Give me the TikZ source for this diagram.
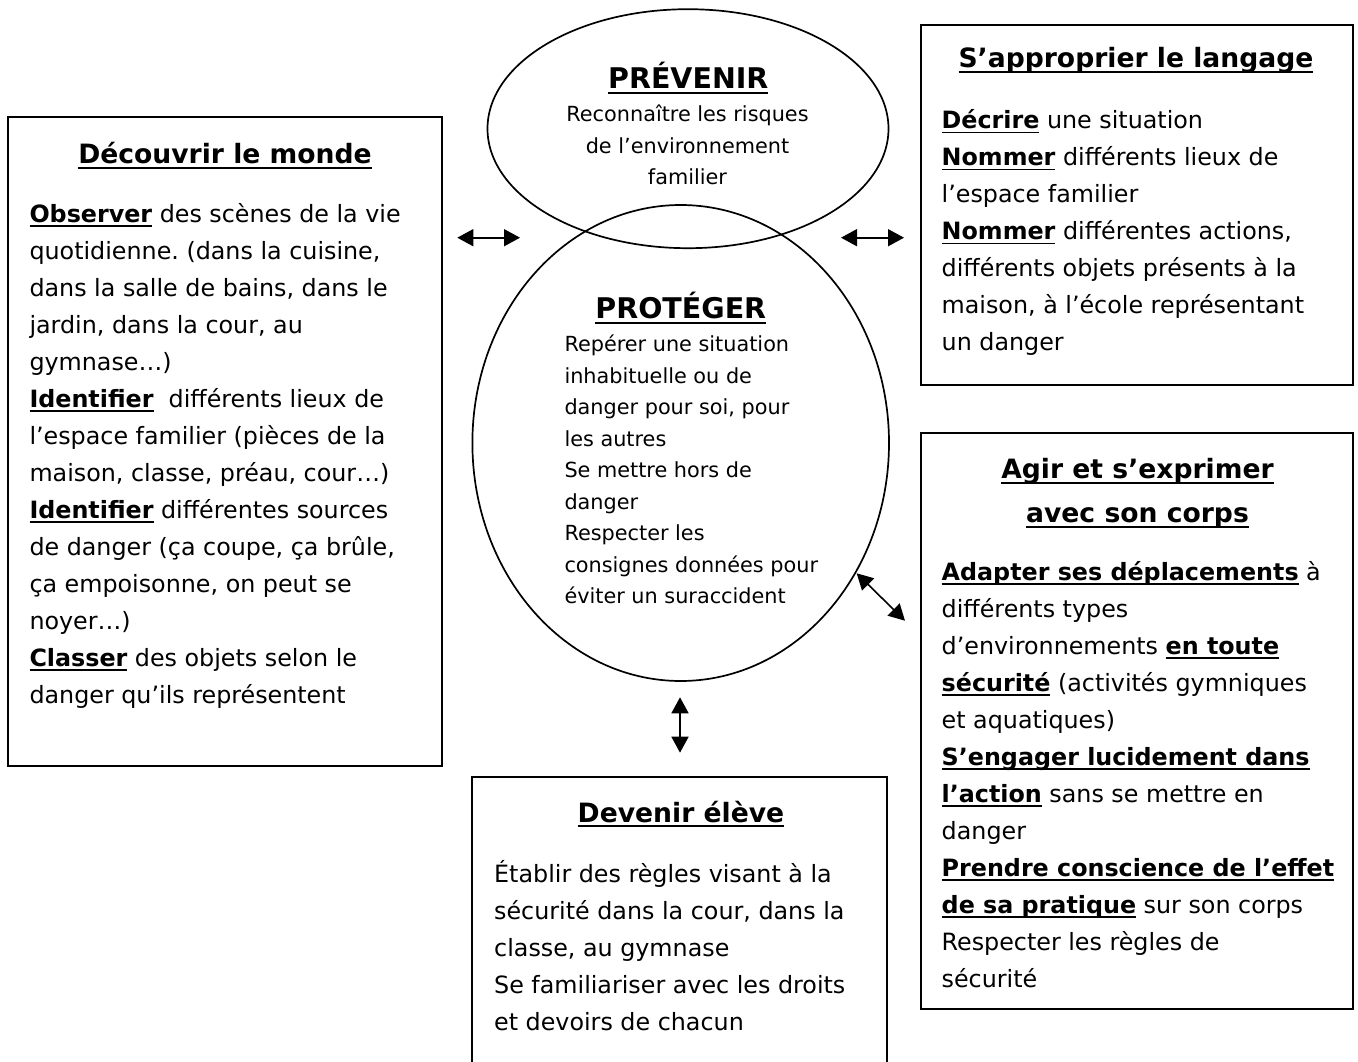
\documentclass[tikz,border=0pt]{standalone}
\usepackage{fontspec}
\setmainfont{DejaVu Sans}
\usetikzlibrary{shapes.geometric,arrows.meta}
\frenchspacing
\newcommand\bodyfont{\fontsize{23.8}{37}\selectfont}
\newcommand\ellfont{\fontsize{20.8}{31.5}\selectfont}
\newcommand\headfont{\fontsize{26.6}{44}\selectfont\bfseries}
\newcommand\bigheadfont{\fontsize{28.5}{34}\selectfont\bfseries}
\newcommand\myul[1]{\setbox0\hbox{#1}\rlap{\rule[-0.2em]{\wd0}{0.075em}}\box0\relax}
\newcommand\bu[1]{\myul{\textbf{#1}}}
\tikzset{
  box/.style={draw=black, line width=2pt},
  oval/.style={ellipse, draw=black, line width=1.7pt, inner sep=0pt},
  body/.style={anchor=north west, inner sep=0pt, align=left, font=\bodyfont},
  ellbody/.style={inner sep=0pt, font=\ellfont},
  heading/.style={anchor=base, inner sep=0pt, font=\headfont},
  bighead/.style={anchor=base, inner sep=0pt, font=\bigheadfont},
  dbl/.style={line width=1.6pt, {Triangle[length=16pt,width=17pt]}-{Triangle[length=16pt,width=17pt]}}
}
\begin{document}
\begin{tikzpicture}[x=1pt,y=-1pt]
\useasboundingbox (0,0) rectangle (1358,1062);
\fill[white] (0,0) rectangle (1358,1062);

% boxes
\draw[box] (8,117) rectangle (441.5,766);
\draw[box] (921,25) rectangle (1353,385);
\draw[box] (921,433) rectangle (1353,1009);
\draw[box] (472,777) rectangle (887,1075);

% ellipses
\node[oval, minimum width=401pt, minimum height=239pt] (prev) at (688,128.7) {};
\node[oval, minimum width=416.6pt, minimum height=476pt] (prot) at (680.7,443) {};

% PREVENIR
\node[bighead] (prevh) at (688.3,88.3) {\myul{PRÉVENIR}};
\node[ellbody, anchor=north, align=center] (prevt) at (687.5,99.65) {\strut Reconnaître les risques\\ de l’environnement\\ familier};

% PROTEGER
\node[bighead] (proth) at (680.8,318.3) {\myul{PROTÉGER}};
\node[ellbody, anchor=north west, align=left] (prott) at (564.3,329.65) {\strut Repérer une situation\\
inhabituelle ou de\\
danger pour soi, pour\\
les autres\\
Se mettre hors de\\
danger\\
Respecter les\\
consignes données pour\\
éviter un suraccident};

% Decouvrir le monde
\node[heading] (dech) at (225,163.3) {\myul{Découvrir le monde}};
\node[body] (dect) at (29.3,196.1) {\strut\bu{Observer} des scènes de la vie\\
quotidienne. (dans la cuisine,\\
dans la salle de bains, dans le\\
jardin, dans la cour, au\\
gymnase…)\\
\bu{Identifier}\ \ différents lieux de\\
l’espace familier (pièces de la\\
maison, classe, préau, cour…)\\
\bu{Identifier} différentes sources\\
de danger (ça coupe, ça brûle,\\
ça empoisonne, on peut se\\
noyer…)\\
\bu{Classer} des objets selon le\\
danger qu’ils représentent};

% S'approprier le langage
\node[heading] (langh) at (1136,68) {\myul{S’approprier le langage}};
\node[body] (langt) at (941.5,102.6) {\strut\bu{Décrire} une situation\\
\bu{Nommer} différents lieux de\\
l’espace familier\\
\bu{Nommer} différentes actions,\\
différents objets présents à la\\
maison, à l’école représentant\\
un danger};

% Agir et s'exprimer
\node[heading, anchor=north, align=center] (agirh) at (1137.5,447.2) {\strut\myul{Agir et s’exprimer}\\ \myul{avec son corps}};
\node[body] (agirt) at (941.5,554.1) {\strut\bu{Adapter ses déplacements} à\\
différents types\\
d’environnements \bu{en toute}\\
\bu{sécurité} (activités gymniques\\
et aquatiques)\\
\bu{S’engager lucidement dans}\\
\bu{l’action} sans se mettre en\\
danger\\
\bu{Prendre conscience de l’effet}\\
\bu{de sa pratique} sur son corps\\
Respecter les règles de\\
sécurité};

% Devenir eleve
\node[heading] (devh) at (681,822) {\myul{Devenir élève}};
\node[body] (devt) at (494,856.1) {\strut Établir des règles visant à la\\
sécurité dans la cour, dans la\\
classe, au gymnase\\
Se familiariser avec les droits\\
et devoirs de chacun};

% arrows
\coordinate (a1) at (457.3,237.7);
\coordinate (a2) at (520,237.7);
\coordinate (b1) at (841,237.7);
\coordinate (b2) at (904,237.7);
\coordinate (c1) at (856.7,573.3);
\coordinate (c2) at (905,620.7);
\coordinate (d1) at (680,697.3);
\coordinate (d2) at (680,752.7);
\draw[dbl] (a1) -- (a2);
\draw[dbl] (b1) -- (b2);
\draw[dbl] (c1) -- (c2);
\draw[dbl] (d1) -- (d2);
\end{tikzpicture}
\end{document}
